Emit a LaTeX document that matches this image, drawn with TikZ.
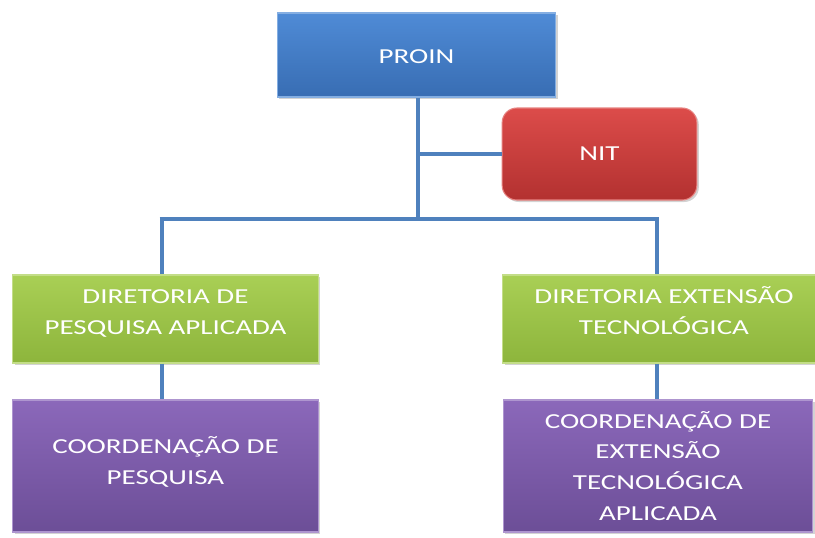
\documentclass[tikz,border=0pt]{standalone}
\usepackage{fontspec}
\setmainfont{Carlito}[FakeStretch=1.36]
\usetikzlibrary{shadows}
\definecolor{lineblue}{HTML}{4F81BD}
\definecolor{bluetop}{HTML}{4F8BD6}
\definecolor{bluebot}{HTML}{386DB3}
\definecolor{redtop}{HTML}{DC4C4A}
\definecolor{redbot}{HTML}{B33130}
\definecolor{greentop}{HTML}{A9CF55}
\definecolor{greenbot}{HTML}{8DB53C}
\definecolor{purptop}{HTML}{8B68BA}
\definecolor{purpbot}{HTML}{6C4E97}
\newcommand{\liftlines}[2]{\raisebox{#1}[\height][\depth]{\begin{tabular}{@{}c@{}}#2\end{tabular}}}
\tikzset{
  box/.style={rectangle, inner sep=0pt, text=white,
    font=\fontsize{16}{23}\selectfont,
    drop shadow={shadow xshift=1.5pt, shadow yshift=-1.5pt, opacity=0.35}},
  bluebox/.style={box, top color=bluetop, bottom color=bluebot, draw=bluetop!70!white, line width=0.8pt},
  redbox/.style={box, rounded corners=11pt, top color=redtop, bottom color=redbot, draw=redtop!70!white, line width=0.8pt},
  greenbox/.style={box, top color=greentop, bottom color=greenbot, draw=greentop!70!white, line width=0.8pt},
  purpbox/.style={box, top color=purptop, bottom color=purpbot, draw=purptop!70!white, line width=0.8pt},
  conn/.style={draw=lineblue, line width=3.6pt}
}
\begin{document}
\begin{tikzpicture}[x=0.75pt, y=-0.75pt]
\useasboundingbox (0,0) rectangle (815,537);
\coordinate (t) at (418,219);
\coordinate (bl) at (162,219);
\coordinate (br) at (657,219);
\node[bluebox, minimum width=209pt, minimum height=63pt] (proin) at (416.5,55) {\liftlines{-1.5pt}{PROIN}};
\node[redbox, minimum width=146pt, minimum height=69pt] (nit) at (599.5,154) {NIT};
\node[greenbox, minimum width=229pt, minimum height=66pt] (dpa) at (165.5,319) {\liftlines{4.5pt}{DIRETORIA DE\\PESQUISA APLICADA}};
\node[greenbox, minimum width=242pt, minimum height=66pt] (det) at (664,319) {\liftlines{4.5pt}{DIRETORIA EXTENSÃO\\TECNOLÓGICA}};
\node[purpbox, minimum width=229pt, minimum height=99pt] (cp) at (165.5,466) {\liftlines{2.2pt}{COORDENAÇÃO DE\\PESQUISA}};
\node[purpbox, minimum width=232pt, minimum height=99pt] (ce) at (658,466) {\liftlines{-1.5pt}{COORDENAÇÃO DE\\EXTENSÃO\\TECNOLÓGICA\\APLICADA}};
\draw[conn] (proin.south -| t) -- (t);
\draw[conn] (nit.west) -- (nit.west -| t);
\draw[conn] ([xshift=-1.8pt]bl) -- ([xshift=1.8pt]br);
\draw[conn] (bl) -- (bl |- dpa.north);
\draw[conn] (br) -- (br |- det.north);
\draw[conn] (bl |- dpa.south) -- (bl |- cp.north);
\draw[conn] (br |- det.south) -- (br |- ce.north);
\end{tikzpicture}
\end{document}
